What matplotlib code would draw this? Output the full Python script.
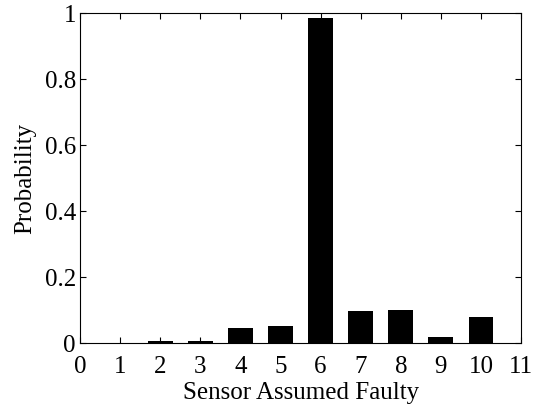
import matplotlib.pyplot as plt
import numpy as np

plt.rcParams['font.family'] = ['Liberation Serif', 'DejaVu Serif']

sensors = [1, 2, 3, 4, 5, 6, 7, 8, 9, 10]
prob = [0.002, 0.006, 0.008, 0.046, 0.051, 0.985, 0.098, 0.102, 0.019, 0.080]

fig = plt.figure(figsize=(5.45, 4.11), dpi=100)
ax = fig.add_axes([0.147, 0.165, 0.809, 0.803])

ax.bar(sensors, prob, width=0.62, color='black')

ax.set_xlim(0, 11)
ax.set_ylim(0, 1)
ax.set_xticks(np.arange(0, 12))
ax.set_yticks([0, 0.2, 0.4, 0.6, 0.8, 1])
ax.set_yticklabels(['0', '0.2', '0.4', '0.6', '0.8', '1'])
ax.tick_params(direction='in', top=True, right=True, labelsize=18, length=4)
ax.tick_params(axis='x', pad=9)
ax.tick_params(axis='y', pad=3)
ax.set_xlabel('Sensor Assumed Faulty', fontsize=18, labelpad=3)
ax.set_ylabel('Probability', fontsize=18, labelpad=6)

fig.savefig('out.png', dpi=100)
